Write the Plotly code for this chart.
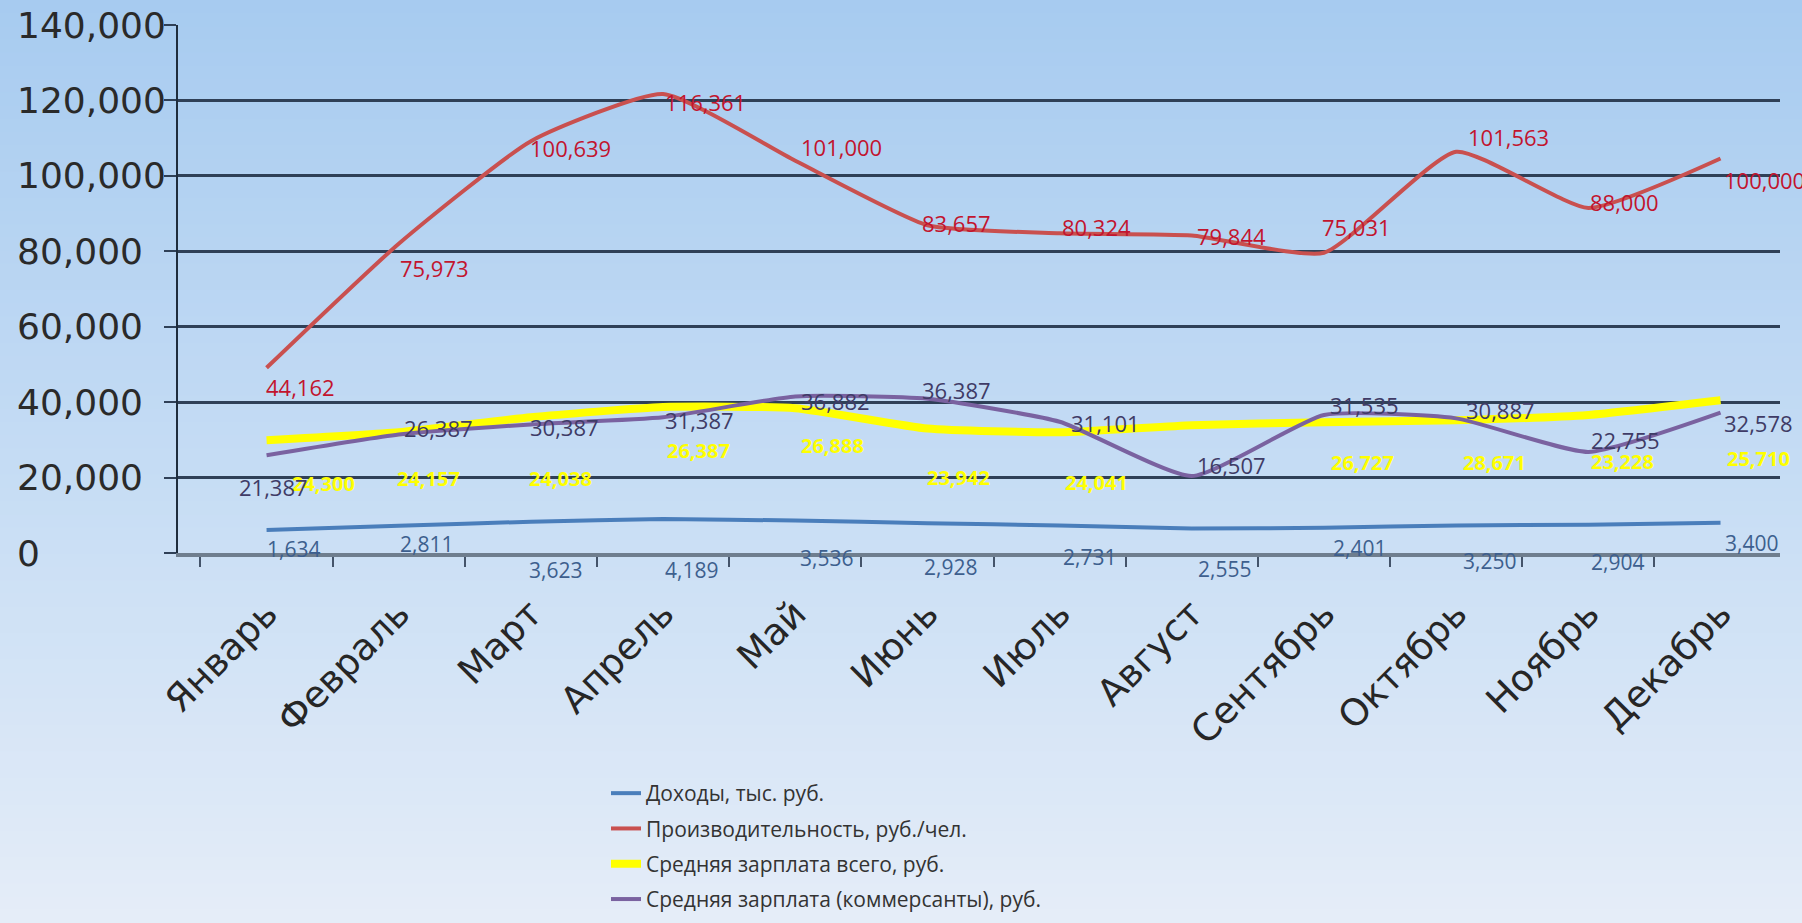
import plotly.graph_objects as go

# ---------------- data ----------------
months = ["Январь", "Февраль", "Март", "Апрель", "Май", "Июнь",
          "Июль", "Август", "Сентябрь", "Октябрь", "Ноябрь", "Декабрь"]

series_names = ["Доходы, тыс. руб.",
                "Производительность, руб./чел.",
                "Средняя зарплата всего, руб.",
                "Средняя зарплата (коммерсанты), руб."]

income_line = [6100, 7200, 8300, 9000, 8600, 7900, 7300, 6500, 6700, 7300, 7500, 8000]
income_labels = ["1,634", "2,811", "3,623", "4,189", "3,536", "2,928",
                 "2,731", "2,555", "2,401", "3,250", "2,904", "3,400"]

prod_line = [49100, 82000, 109200, 121700, 104000, 86900, 84800, 84200, 79600, 106400, 91500, 104600]
prod_labels = ["44,162", "75,973", "100,639", "116,361", "101,000", "83,657",
               "80,324", "79,844", "75,031", "101,563", "88,000", "100,000"]

salary_line = [29900, 32000, 36000, 38700, 38400, 33000, 32000, 33900, 34700, 35200, 36600, 40500]
salary_labels = ["24,300", "24,157", "24,038", "26,387", "26,888", "23,942",
                 "24,041", "", "26,727", "28,671", "23,228", "25,710"]

comm_line = [25900, 31400, 34100, 36000, 41500, 40900, 34800, 20400, 36600, 35700, 26800, 37200]
comm_labels = ["21,387", "26,387", "30,387", "31,387", "36,882", "36,387",
               "31,101", "16,507", "31,535", "30,887", "22,755", "32,578"]

y_ticks = [0, 20000, 40000, 60000, 80000, 100000, 120000, 140000]
y_tick_text = ["0", "20,000", "40,000", "60,000", "80,000", "100,000", "120,000", "140,000"]

# ---------------- styles ----------------
W, H = 1802, 923
ML, MR, MT, MB = 178, 22, 25, 370
PW, PH = W - ML - MR, H - MT - MB

colors = {"income": "#4a7ebb", "prod": "#c9504f", "salary": "#ffff00", "comm": "#7a62a0"}
label_colors = {"income": "#3d5f8e", "prod": "#c2142e", "salary": "#ffff00", "comm": "#3f3b66"}
FONT = "Open Sans"
AXFONT = "DejaVu Sans"

# label offsets in pixels (dx right, dy down) relative to the line point; text anchored at its left edge
income_off = [(-2, 19), (-1, 18), (-4, 48), (0, 51), (3, 37), (-5, 44),
              (1, 32), (4, 41), (7, 20), (5, 36), (1, 37), (2, 20)]
prod_off = [(-3, 19), (-1, 24), (-3, 7), (0, 8), (4, -14), (-7, -2),
            (0, -6), (3, 1), (-4, -26), (10, -15), (0, -6), (1, 21)]
salary_off = [(23, 43), (-4, 46), (-4, 61), (2, 43), (4, 37), (-2, 49),
              (3, 50), (0, 0), (5, 40), (5, 42), (1, 47), (4, 58)]
comm_off = [(-30, 32), (3, -7), (-3, 3), (0, 3), (4, 5), (-7, -9),
            (9, 1), (3, -11), (4, -10), (8, -8), (1, -12), (1, 10)]

fig = go.Figure()

def add_line(values, name, color, width):
    fig.add_trace(go.Scatter(
        x=months, y=values, mode="lines", name=name, legendgroup=name,
        line=dict(color=color, width=width, shape="spline", smoothing=0.5),
        hoverinfo="skip"))

add_line(income_line, series_names[0], colors["income"], 4)
add_line(prod_line, series_names[1], colors["prod"], 4)
add_line(salary_line, series_names[2], colors["salary"], 8)
add_line(comm_line, series_names[3], colors["comm"], 4)

annotations = []

def add_labels(values, labels, offsets, color, size, bold=False):
    for m, v, t, (dx, dy) in zip(months, values, labels, offsets):
        if not t:
            continue
        annotations.append(dict(
            x=m, y=v, xref="x", yref="y", text=("<b>%s</b>" % t) if bold else t,
            showarrow=False, xanchor="left", yanchor="middle",
            xshift=dx, yshift=-dy,
            font=dict(family=FONT, size=size, color=color)))

add_labels(income_line, income_labels, income_off, label_colors["income"], 21)
add_labels(prod_line, prod_labels, prod_off, label_colors["prod"], 22)
add_labels(salary_line, salary_labels, salary_off, label_colors["salary"], 20, bold=True)
add_labels(comm_line, comm_labels, comm_off, label_colors["comm"], 22)

# y tick labels (left aligned, as in the reference)
for v, t in zip(y_ticks, y_tick_text):
    annotations.append(dict(
        x=(15 - ML) / PW, y=v, xref="paper", yref="y", text=t,
        showarrow=False, xanchor="left", yanchor="middle",
        font=dict(family=AXFONT, size=36, color="#2a2a2a")))

# background gradient built from horizontal bands
shapes = []
stops = [(0.0, (167, 203, 240)), (0.5, (197, 220, 244)), (1.0, (229, 237, 248))]
N = 70
for i in range(N):
    f = (i + 0.5) / N
    for (a, ca), (b, cb) in zip(stops[:-1], stops[1:]):
        if a <= f <= b:
            t = (f - a) / (b - a)
            c = tuple(int(round(ca[k] + (cb[k] - ca[k]) * t)) for k in range(3))
            break
    y0px = H * i / N
    y1px = H * (i + 1) / N + 1
    shapes.append(dict(
        type="rect", xref="paper", yref="paper", layer="below",
        x0=-ML / PW - 0.01, x1=(W - ML) / PW + 0.01,
        y0=(H - MB - y0px) / PH, y1=(H - MB - y1px) / PH,
        fillcolor="rgb(%d,%d,%d)" % c, line=dict(width=0)))

fig.update_layout(
    width=W, height=H,
    margin=dict(l=ML, r=MR, t=MT, b=MB, autoexpand=False),
    paper_bgcolor="rgb(197,220,244)",
    plot_bgcolor="rgba(0,0,0,0)",
    font=dict(family=FONT, color="#2a2a2a"),
    shapes=shapes,
    annotations=annotations,
    showlegend=True,
    legend=dict(
        x=(606 - ML) / PW, y=(MT + PH - 773) / PH, xanchor="left", yanchor="top",
        bgcolor="rgba(0,0,0,0)", font=dict(family=FONT, size=21, color="#333333"),
        itemwidth=30, tracegroupgap=5),
    xaxis=dict(
        type="category", range=[-0.67, 11.45],
        showline=True, linecolor="#6f7e8e", linewidth=4,
        ticks="outside", tickson="boundaries", ticklen=10, tickwidth=2, tickcolor="#44546a",
        tickangle=-45, showgrid=False, ticklabelstandoff=20,
        tickfont=dict(family=AXFONT, size=37, color="#262626")),
    yaxis=dict(
        range=[0, 140000], tickvals=y_ticks, showticklabels=False,
        showline=True, linecolor="#1f2d3d", linewidth=2,
        showgrid=True, gridcolor="#2f4057", gridwidth=3, zeroline=False,
        ticks="outside", ticklen=12, tickwidth=2, tickcolor="#2f4057"),
)

fig.write_html("out.html", config={"displayModeBar": False},
               post_script="document.body.style.margin='0';document.body.style.overflow='hidden';")
